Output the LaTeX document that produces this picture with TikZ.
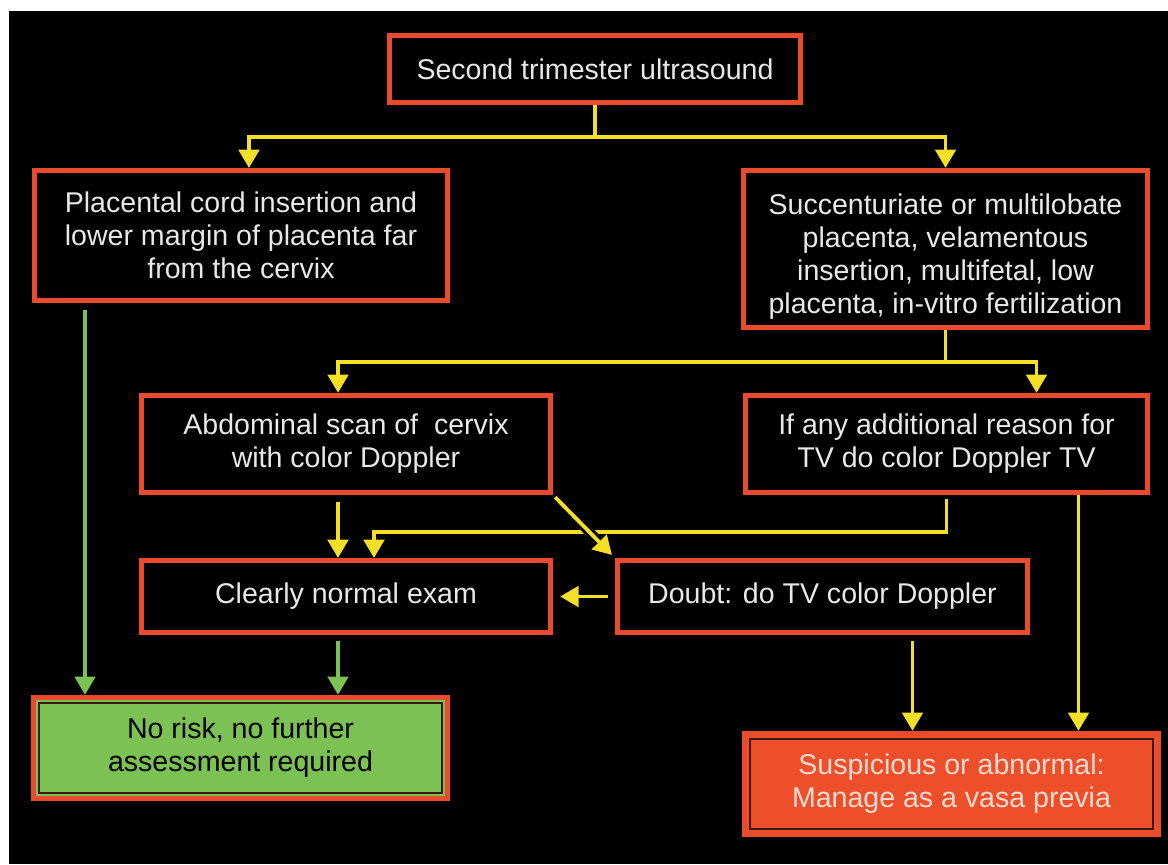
\documentclass[tikz,border=0pt]{standalone}
\usepackage{fontspec}
\setmainfont{Liberation Sans}
\usetikzlibrary{arrows.meta, calc}
\definecolor{boxred}{HTML}{E94B2C}
\definecolor{lineyellow}{HTML}{F3DF25}
\definecolor{okgreen}{HTML}{7BC153}
\definecolor{txtwhite}{HTML}{E8E8E8}
\definecolor{vasafill}{HTML}{EE4F2B}
\definecolor{vasatext}{HTML}{F8DCD2}
\definecolor{innerdark}{HTML}{3A1A10}
\tikzset{
  >={Triangle[width=14.5pt, length=13pt]},
  link/.style   ={draw=lineyellow, line width=2.7pt, ->},
  glink/.style  ={draw=okgreen, line width=2.5pt, ->},
  stepbox/.style={rectangle, draw=boxred, line width=3.6pt, fill=black, text=txtwhite,
                  align=center, inner sep=0pt, font=\fontsize{20.3pt}{23.5pt}\selectfont},
  endbox/.style ={stepbox, path picture={\draw[innerdark, line width=1.4pt]
                  ([shift={(3.9pt,-3.9pt)}]path picture bounding box.north west) rectangle
                  ([shift={(-3.9pt,3.9pt)}]path picture bounding box.south east);}},
}
\begin{document}
\begin{tikzpicture}[x=0.025cm, y=-0.025cm]
  \useasboundingbox (0,0) rectangle (1168,864);
  \fill[white] (0,0) rectangle (1168,864);
  \fill[black] (9,11) rectangle (1168,864);

  % --- boxes ------------------------------------------------------------------
  \node[stepbox, minimum width=10.28cm, minimum height=1.68cm] (us)     at (595,69)    {Second trimester ultrasound};
  \node[stepbox, minimum width=10.33cm, minimum height=3.25cm] (far)    at (241,235.5) {Placental cord insertion and\\lower margin of placenta far\\from the cervix};
  \node[stepbox, minimum width=10.1cm,  minimum height=3.93cm] (risk)   at (945.5,249) {\rule{0pt}{25pt}Succenturiate or multilobate\\placenta, velamentous\\insertion, multifetal, low\\placenta, in-vitro fertilization};
  \node[stepbox, minimum width=10.23cm, minimum height=2.43cm] (abd)    at (346,444)   {Abdominal scan of~ cervix\\with color Doppler};
  \node[stepbox, minimum width=10.05cm, minimum height=2.43cm] (tv)     at (946.5,444) {If any additional reason for\\TV do color Doppler TV};
  \node[stepbox, minimum width=10.23cm, minimum height=1.8cm]  (normal) at (346,596.5) {Clearly normal exam};
  \node[stepbox, minimum width=10.25cm, minimum height=1.8cm]  (doubt)  at (822.5,596.5) {Doubt: do TV color Doppler};
  \node[endbox, fill=okgreen, text=black, minimum width=10.35cm, minimum height=2.53cm] (safe) at (240.5,748) {No risk, no further\\assessment required};
  \node[endbox, fill=vasafill, text=vasatext, minimum width=10.35cm, minimum height=2.53cm] (vasa) at (951.5,784) {Suspicious or abnormal:\\Manage as a vasa previa};

  % --- split points and free ends -------------------------------------------
  \coordinate (s1) at ($(us.south)+(0,32)$);
  \coordinate (s2) at ($(risk.south)+(0,32)$);
  \coordinate (d1) at ($(doubt.south)+(90,0)$);
  \coordinate (t1) at ($(tv.south)+(132,0)$);
  \coordinate (f1) at ($(far.south)+(-156,0)$);
  \coordinate (n1) at ($(normal.south)+(-8,0)$);

  % --- yellow flow -----------------------------------------------------------
  \draw[link,-] (us.south) -- (s1);
  \draw[link] (s1) -| ($(far.north)+(8,0)$);
  \draw[link] (s1) -| (risk.north);
  \draw[link,-] (risk.south) -- (s2);
  \draw[link] (s2) -| ($(abd.north)+(-8,0)$);
  \draw[link] (s2) -| ($(tv.north)+(90,0)$);
  \draw[link, shorten <=5pt] ($(abd.south)+(-8,0)$) -- ($(normal.north)+(-8,0)$);
  \draw[link, shorten <=3pt] (tv.south) -- ++(0,37) -| ($(normal.north)+(28,0)$);
  \draw[link, shorten <=2pt, shorten >=3pt,
        preaction={draw=black, line width=7pt, -, shorten <=14pt, shorten >=14pt}]
        (abd.south east) -- (doubt.north west);
  \draw[link, shorten <=5pt, shorten >=5pt] (doubt.west) -- (normal.east);
  \draw[link, shorten <=4pt] (d1) -- (d1 |- vasa.north);
  \draw[link] (t1) -- (t1 |- vasa.north);

  % --- green flow ------------------------------------------------------------
  \draw[glink, shorten <=5pt] (f1) -- (f1 |- safe.north);
  \draw[glink, shorten <=4pt] (n1) -- (n1 |- safe.north);
\end{tikzpicture}
\end{document}
